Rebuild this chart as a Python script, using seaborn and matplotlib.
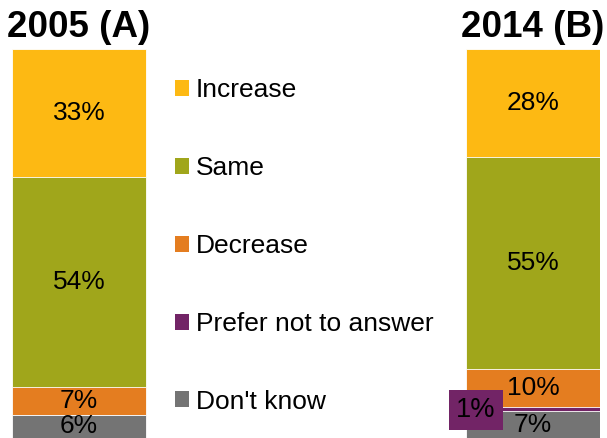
import numpy as np
import pandas as pd
import seaborn as sns
import matplotlib.pyplot as plt
from matplotlib.patches import Patch

# survey answers, share in percent
years = ['2005 (A)', '2014 (B)']
answers = ['Increase', 'Same', 'Decrease', 'Prefer not to answer', "Don't know"]
increase = [33, 28]
same = [54, 55]
decrease = [7, 10]
prefer_not = [0, 1]
dont_know = [6, 7]
colors = ['#FDB913', '#A0A61B', '#E47D20', '#722466', '#747474']

sns.set_style('white')
plt.rcParams['font.family'] = ['Liberation Sans', 'DejaVu Sans']
plt.rcParams['text.color'] = 'black'

df = pd.DataFrame({'Increase': increase, 'Same': same, 'Decrease': decrease,
                   'Prefer not to answer': prefer_not, "Don't know": dont_know},
                  index=years)
# 100% stacked: normalize each bar
share = df.div(df.sum(axis=1), axis=0) * 100
# top of each segment (stack from the bottom: Don't know first)
tops = share[answers[::-1]].cumsum(axis=1)

fig = plt.figure(figsize=(6.07, 4.38), dpi=100)
ax = fig.add_axes([12 / 607, 0, 588 / 607, 389 / 438])
w = 0.295

# draw tallest first so shorter bars sit on top
for ans, col in zip(answers, colors):
    sns.barplot(x=years, y=tops[ans].values, color=col, saturation=1, width=w,
                edgecolor='white', linewidth=0.6, ax=ax)

for i, yr in enumerate(years):
    for ans in answers:
        v = df.loc[yr, ans]
        if v == 0:
            continue
        top = tops.loc[yr, ans]
        mid = top - share.loc[yr, ans] / 2
        if ans == 'Prefer not to answer':
            ax.text(i - w / 2 + 0.022, top - share.loc[yr, ans] + 0.3, f'{v}%',
                    ha='center', va='center', fontsize=19.5, color='black',
                    bbox=dict(facecolor=colors[3], edgecolor='none', pad=5), zorder=5)
        else:
            ax.text(i, mid, f'{v}%', ha='center', va='center', fontsize=19,
                    color='black', clip_on=False)
    ax.annotate(yr, (i, 100), xytext=(0, 8.5), textcoords='offset points',
                ha='center', va='baseline', fontsize=26.5, fontweight='bold',
                color='black', annotation_clip=False)

ax.set_xlim(-w / 2, 1 + w / 2)
ax.set_ylim(0, 100)
ax.axis('off')

handles = [Patch(facecolor=c, edgecolor='none', label=a) for a, c in zip(answers, colors)]
fig.legend(handles=handles, loc='upper left', bbox_to_anchor=(0.288, 0.821),
           frameon=False, fontsize=19, handlelength=0.55, handleheight=0.55,
           handletextpad=0.25, labelspacing=2.04, borderpad=0, borderaxespad=0,
           labelcolor='black')

fig.savefig('out.png', dpi=100)
